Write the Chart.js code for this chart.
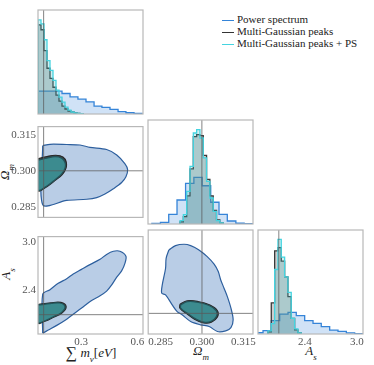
<!DOCTYPE html>
<html>
<head>
<meta charset="utf-8">
<script src="https://cdn.jsdelivr.net/npm/chart.js@4.4.1/dist/chart.umd.min.js"></script>
<style>
  body { margin: 0; background: #fff; }
  #wrap { position: relative; width: 374px; height: 365px; overflow: hidden; font-family: 'Liberation Serif', serif; color: #222; }
  #wrap canvas { position: absolute; }
  .lab { position: absolute; font-size: 13px; white-space: nowrap; transform: translate(-50%, -50%); }
  .lab i { font-style: italic; }
  .lab sub { font-size: 9px; font-style: italic; position: relative; top: 1px; }
  .lab .sig { font-size: 16px; position: relative; top: 1px; }
  .rot { transform: translate(-50%, -50%) rotate(-90deg); }
  .legend { position: absolute; left: 222px; top: 13px; font-size: 11px; }
  .legend div { height: 12px; line-height: 12px; white-space: nowrap; }
  .legend span { display: inline-block; width: 12px; height: 1.5px; margin-right: 3px; vertical-align: middle; }
</style>
</head>
<body>
<div id="wrap">
  <div class="legend">
    <div><span style="background:#3584d8"></span>Power spectrum</div>
    <div><span style="background:#333"></span>Multi-Gaussian peaks</div>
    <div><span style="background:#45d4e0"></span>Multi-Gaussian peaks + PS</div>
  </div>
  <div class="lab" style="left:91px; top:353px"><span class="sig">∑</span> <i>m</i><sub>ν</sub>[<i>eV</i>]</div>
  <div class="lab" style="left:201px; top:352px"><i>Ω</i><sub>m</sub></div>
  <div class="lab" style="left:311px; top:352px"><i>A</i><sub>s</sub></div>
  <div class="lab rot" style="left:6px; top:172px"><i>Ω</i><sub>m</sub></div>
  <div class="lab rot" style="left:7px; top:274px"><i>A</i><sub>s</sub></div>
</div>
<script>
// ------------------------
// DATA
// ------------------------

// axis ranges, ticks and fiducial values
const mnuRange = [0.07, 0.63]
const omRange = [0.2805, 0.3185]
const asRange = [1.86, 3.07]
const mnuTicks = [0.3, 0.6]
const omTicks = [0.285, 0.300, 0.315]
const asTicks = [2.4, 3.0]
const mnuTrue = 0.1
const omTrue = 0.3
const asTrue = 2.1

// sum m_nu histograms
const mnuPsEdges = [0.07, 0.113, 0.155, 0.198, 0.241, 0.283, 0.326, 0.369, 0.411, 0.454, 0.497, 0.539, 0.582, 0.625]
const mnuPsHist = [0.219, 0.219, 0.219, 0.197, 0.165, 0.143, 0.117, 0.076, 0.063, 0.045, 0.022, 0.012, 0.005]
const mnuPeakEdges = [0.07, 0.086, 0.102, 0.118, 0.134, 0.15, 0.166, 0.182, 0.198, 0.214, 0.23, 0.246, 0.262, 0.278, 0.294, 0.31]
const mnuPeaksHist = [0.857, 0.81, 0.61, 0.44, 0.343, 0.257, 0.181, 0.124, 0.076, 0.048, 0.029, 0.02, 0.01, 0.005, 0.002]
const mnuPeaksPsHist = [0.905, 0.867, 0.714, 0.514, 0.42, 0.324, 0.229, 0.162, 0.114, 0.067, 0.038, 0.019, 0.01, 0.006, 0.003]

// omega_m histograms
const omPsEdges = [0.2819, 0.2850, 0.2880, 0.2910, 0.2941, 0.2971, 0.3001, 0.3032, 0.3062, 0.3092, 0.3123, 0.3153, 0.3183]
const omPsHist = [0.005, 0.016, 0.093, 0.231, 0.391, 0.449, 0.368, 0.209, 0.093, 0.029, 0.007, 0.003]
const omPeakEdges = [0.2921, 0.2933, 0.2945, 0.2957, 0.2969, 0.2981, 0.2993, 0.3005, 0.3017, 0.3029, 0.3041, 0.3053, 0.3065, 0.3077]
const omPeaksHist = [0.02, 0.07, 0.27, 0.53, 0.84, 0.86, 0.85, 0.66, 0.43, 0.27, 0.13, 0.04, 0.01]
const omPeaksPsHist = [0.032, 0.09, 0.314, 0.554, 0.875, 0.907, 0.827, 0.635, 0.41, 0.25, 0.122, 0.032, 0.01]

// A_s histograms
const asPsEdges = [1.822, 1.918, 2.013, 2.110, 2.206, 2.301, 2.398, 2.494, 2.589, 2.686, 2.782, 2.878, 2.974, 3.070]
const asPsHist = [0.012, 0.032, 0.128, 0.192, 0.208, 0.176, 0.128, 0.103, 0.071, 0.038, 0.026, 0.01, 0.004]
const asPeakEdges = [1.975, 2.013, 2.052, 2.090, 2.128, 2.167, 2.205, 2.243, 2.282, 2.320, 2.358]
const asPeaksHist = [0.02, 0.30, 0.80, 0.83, 0.70, 0.55, 0.36, 0.15, 0.04, 0.01]
const asPeaksPsHist = [0.03, 0.10, 0.62, 0.91, 0.74, 0.55, 0.40, 0.15, 0.05, 0.01]

// 2D contours [x, y]
const mnuOmPs = [[0.095, 0.3105], [0.134, 0.3111], [0.223, 0.3110], [0.294, 0.3108], [0.347, 0.3098], [0.436, 0.3089], [0.490, 0.3066], [0.534, 0.3029], [0.548, 0.3005], [0.539, 0.2975], [0.516, 0.2951], [0.472, 0.2925], [0.427, 0.2903], [0.383, 0.2888], [0.330, 0.2881], [0.223, 0.2876], [0.095, 0.2858]]
const mnuOmPeaks = [[0.07, 0.3050], [0.118, 0.3060], [0.165, 0.3065], [0.203, 0.3058], [0.220, 0.3038], [0.219, 0.3010], [0.199, 0.2984], [0.162, 0.2960], [0.125, 0.2938], [0.07, 0.2918]]
const mnuOmPeaksPs = [[0.07, 0.3044], [0.116, 0.3053], [0.161, 0.3059], [0.196, 0.3053], [0.214, 0.3035], [0.214, 0.3011], [0.196, 0.2987], [0.161, 0.2963], [0.125, 0.2941], [0.07, 0.2921]]

const mnuAsPs = [[0.095, 1.870], [0.095, 2.353], [0.134, 2.411], [0.178, 2.489], [0.223, 2.547], [0.258, 2.605], [0.302, 2.663], [0.347, 2.722], [0.401, 2.788], [0.436, 2.849], [0.472, 2.888], [0.507, 2.888], [0.539, 2.826], [0.534, 2.741], [0.516, 2.644], [0.490, 2.567], [0.463, 2.470], [0.436, 2.393], [0.401, 2.335], [0.356, 2.277], [0.312, 2.199], [0.267, 2.121], [0.223, 2.044], [0.170, 1.967], [0.125, 1.909]]
const mnuAsPeaks = [[0.07, 2.226], [0.136, 2.246], [0.192, 2.252], [0.220, 2.200], [0.199, 2.124], [0.153, 2.068], [0.107, 2.018], [0.07, 1.998]]
const mnuAsPeaksPs = [[0.07, 2.219], [0.134, 2.237], [0.187, 2.245], [0.214, 2.199], [0.196, 2.129], [0.152, 2.075], [0.107, 2.025], [0.07, 2.005]]

const omAsPs = [[0.2880, 2.838], [0.2904, 2.888], [0.2935, 2.904], [0.2959, 2.888], [0.2989, 2.838], [0.3019, 2.760], [0.3044, 2.672], [0.3059, 2.586], [0.3068, 2.489], [0.3080, 2.393], [0.3092, 2.295], [0.3105, 2.161], [0.3113, 2.025], [0.3105, 1.935], [0.3086, 1.897], [0.3056, 1.889], [0.3026, 1.947], [0.2995, 1.967], [0.2959, 2.005], [0.2928, 2.083], [0.2910, 2.121], [0.2892, 2.199], [0.2868, 2.315], [0.2854, 2.335], [0.2856, 2.431], [0.2868, 2.625], [0.2870, 2.741]]
const omAsPeaks = [[0.2920, 2.205], [0.2946, 2.245], [0.2985, 2.238], [0.3029, 2.196], [0.3056, 2.130], [0.3056, 2.058], [0.3034, 1.998], [0.3006, 1.990], [0.2974, 2.030], [0.2944, 2.098], [0.2920, 2.160]]
const omAsPeaksPs = [[0.2923, 2.199], [0.2947, 2.237], [0.2983, 2.230], [0.3026, 2.191], [0.3052, 2.129], [0.3052, 2.063], [0.3032, 2.005], [0.3007, 1.998], [0.2977, 2.036], [0.2947, 2.102], [0.2923, 2.161]]

// ------------------------
// LAYOUT / STYLE
// ------------------------

const wrap = document.querySelector('#wrap')
const COL_X = [38, 148, 258]
const ROW_Y = [10, 120, 230]
const PANEL_W = 105
const PANEL_H = 104
const PAD = 2
const Y_AXIS_W = 38
const X_AXIS_H = 16

const PS_LINE = '#3584d8'
const PS_FILL = 'rgba(100,160,225,0.3)'
const PEAK_LINE = '#3a3a3a'
const PEAK_FILL = 'rgba(90,90,90,0.3)'
const MIX_LINE = '#45d4e0'
const MIX_FILL = 'rgba(70,190,200,0.25)'
const PS_2D_LINE = '#2d5f9e'
const PS_2D_FILL = 'rgba(100,145,200,0.45)'
const TRUTH = 'rgba(90,90,90,0.75)'
const tickFont = { family: 'Liberation Serif', size: 11 }

// ------------------------
// HELPERS
// ------------------------

function histLine(edges, heights) {
  const pts = [{ x: edges[0], y: 0 }]
  heights.forEach((h, i) => pts.push({ x: edges[i], y: h }))
  pts.push({ x: edges[edges.length - 1], y: 0 })
  return pts
}

function closedLoop(points) {
  const pts = points.map(p => ({ x: p[0], y: p[1] }))
  pts.push(pts[0])
  return pts
}

function histSet(edges, heights, line, fill, order) {
  return { data: histLine(edges, heights), stepped: true, borderColor: line, backgroundColor: fill,
    borderWidth: 1.3, fill: 'origin', pointRadius: 0, order: order }
}

function contourSet(points, line, fill, order, tension) {
  return { data: closedLoop(points), borderColor: line, backgroundColor: fill, borderWidth: 1.2,
    fill: 'shape', pointRadius: 0, tension: tension, order: order }
}

function vLine(v, range) {
  return { data: [{ x: v, y: range[0] }, { x: v, y: range[1] }], borderColor: TRUTH, borderWidth: 1,
    pointRadius: 0, fill: false, order: 0 }
}

function hLine(v, range) {
  return { data: [{ x: range[0], y: v }, { x: range[1], y: v }], borderColor: TRUTH, borderWidth: 1,
    pointRadius: 0, fill: false, order: 0 }
}

function axis(range, show, ticks, digits, horizontal) {
  return {
    type: 'linear', min: range[0], max: range[1], display: show,
    grid: { display: false, drawTicks: false },
    border: { display: false },
    ticks: { font: tickFont, color: '#555', padding: 2, maxRotation: 0, minRotation: 0, autoSkip: false,
      callback: v => v.toFixed(digits) },
    afterBuildTicks: s => { s.ticks = (ticks || []).map(v => ({ value: v })) },
    afterFit: s => {
      if (!show) { s.width = 0; s.height = 0; return }
      if (horizontal) s.height = X_AXIS_H
      else s.width = Y_AXIS_W
    }
  }
}

// frame round every panel
const frame = {
  id: 'frame',
  afterDraw(chart) {
    const { ctx, chartArea: a } = chart
    ctx.save()
    ctx.strokeStyle = '#b8b8b8'
    ctx.lineWidth = 1.2
    ctx.strokeRect(a.left, a.top, a.right - a.left, a.bottom - a.top)
    ctx.restore()
  }
}

function panel(col, row, x, y, datasets) {
  const yw = y.show ? Y_AXIS_W : 0
  const xh = x.show ? X_AXIS_H : 0
  const extra = x.show ? 10 : 0
  const c = document.createElement('canvas')
  c.width = PANEL_W + 2 * PAD + yw + extra
  c.height = PANEL_H + 2 * PAD + xh
  c.style.left = (COL_X[col] - PAD - yw) + 'px'
  c.style.top = (ROW_Y[row] - PAD) + 'px'
  wrap.appendChild(c)
  new Chart(c, {
    type: 'line',
    data: { datasets: datasets },
    options: {
      responsive: false,
      animation: false,
      events: [],
      layout: { autoPadding: false, padding: { left: PAD, right: PAD + extra, top: PAD, bottom: PAD } },
      scales: {
        x: axis(x.range, x.show, x.ticks, x.digits, true),
        y: axis(y.range, y.show, y.ticks, y.digits, false)
      },
      plugins: { legend: { display: false }, tooltip: { enabled: false } }
    },
    plugins: [frame]
  })
}

// ------------------------
// CORNER PLOT
// ------------------------

const histY = { range: [0, 1], show: false }

panel(0, 0, { range: mnuRange, show: false }, histY, [
  histSet(mnuPsEdges, mnuPsHist, PS_LINE, PS_FILL, 5),
  histSet(mnuPeakEdges, mnuPeaksHist, PEAK_LINE, PEAK_FILL, 4),
  histSet(mnuPeakEdges, mnuPeaksPsHist, MIX_LINE, MIX_FILL, 3),
  vLine(mnuTrue, [0, 1])
])

panel(0, 1, { range: mnuRange, show: false }, { range: omRange, show: true, ticks: omTicks, digits: 3 }, [
  contourSet(mnuOmPs, PS_2D_LINE, PS_2D_FILL, 5, 0.3),
  contourSet(mnuOmPeaks, '#2a2a2a', 'rgba(40,40,40,0.85)', 4, 0.4),
  contourSet(mnuOmPeaksPs, '#24555c', '#3c8b8f', 3, 0.4),
  vLine(mnuTrue, omRange), hLine(omTrue, mnuRange)
])

panel(1, 1, { range: omRange, show: false }, histY, [
  histSet(omPsEdges, omPsHist, PS_LINE, PS_FILL, 5),
  histSet(omPeakEdges, omPeaksHist, PEAK_LINE, PEAK_FILL, 4),
  histSet(omPeakEdges, omPeaksPsHist, MIX_LINE, MIX_FILL, 3),
  vLine(omTrue, [0, 1])
])

panel(0, 2, { range: mnuRange, show: true, ticks: mnuTicks, digits: 1 }, { range: asRange, show: true, ticks: asTicks, digits: 1 }, [
  contourSet(mnuAsPs, PS_2D_LINE, PS_2D_FILL, 5, 0.3),
  contourSet(mnuAsPeaks, '#2a2a2a', 'rgba(40,40,40,0.85)', 4, 0.4),
  contourSet(mnuAsPeaksPs, '#24555c', '#3c8b8f', 3, 0.4),
  vLine(mnuTrue, asRange), hLine(asTrue, mnuRange)
])

panel(1, 2, { range: omRange, show: true, ticks: omTicks, digits: 3 }, { range: asRange, show: false }, [
  contourSet(omAsPs, PS_2D_LINE, PS_2D_FILL, 5, 0.3),
  contourSet(omAsPeaks, '#2a2a2a', 'rgba(40,40,40,0.85)', 4, 0.4),
  contourSet(omAsPeaksPs, '#24555c', '#3c8b8f', 3, 0.4),
  vLine(omTrue, asRange), hLine(asTrue, omRange)
])

panel(2, 2, { range: asRange, show: true, ticks: asTicks, digits: 1 }, histY, [
  histSet(asPsEdges, asPsHist, PS_LINE, PS_FILL, 5),
  histSet(asPeakEdges, asPeaksHist, PEAK_LINE, PEAK_FILL, 4),
  histSet(asPeakEdges, asPeaksPsHist, MIX_LINE, MIX_FILL, 3),
  vLine(asTrue, [0, 1])
])
</script>
</body>
</html>
